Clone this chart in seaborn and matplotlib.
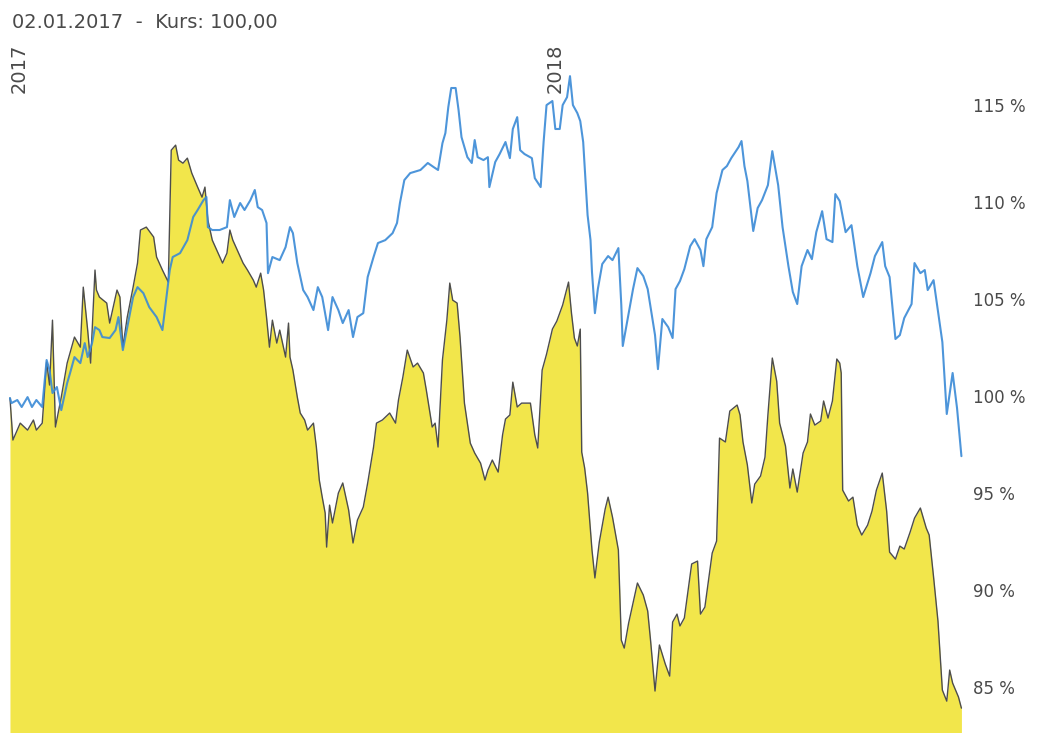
import pandas as pd
import matplotlib.pyplot as plt
import matplotlib.dates as mdates
import matplotlib.transforms as mtransforms
import seaborn as sns

# ------------------------------------------------------------
# Daten: Tage seit 02.01.2017 und Kurs in % (Start = 100)
# ------------------------------------------------------------
START = pd.Timestamp("2017-01-02")

# Aktie (gelbe Fläche, graue Linie)
aktie_tage = [
    0, 2, 7, 12, 16, 18, 22, 25, 27, 29, 31, 35, 39, 44, 48, 50, 53, 55, 58, 59,
    61, 66, 68, 73, 75, 77, 80, 84, 87, 89, 93, 98, 100, 104, 108, 110, 113, 115, 118, 121,
    124, 128, 131, 133, 135, 138, 142, 145, 148, 150, 152, 156, 159, 162, 166, 168, 171, 173, 175, 177,
    179, 182, 184, 188, 190, 191, 193, 196, 198, 201, 203, 207, 209, 211, 213, 215, 216, 218, 220, 224,
    227, 231, 234, 237, 241, 244, 248, 250, 254, 259, 263, 265, 268, 271, 275, 278, 282, 284, 288, 290,
    292, 295, 298, 300, 302, 305, 307, 310, 314, 317, 321, 324, 326, 329, 333, 336, 338, 341, 343, 346,
    349, 355, 358, 360, 363, 366, 370, 373, 377, 381, 383, 385, 387, 389, 390, 392, 394, 397, 399, 402,
    406, 408, 411, 415, 417, 419, 422, 425, 428, 432, 435, 437, 440, 443, 447, 450, 452, 455, 457, 460,
    465, 469, 471, 474, 479, 482, 484, 488, 491, 496, 498, 500, 503, 506, 508, 512, 515, 517, 520, 523,
    525, 529, 532, 534, 537, 541, 544, 546, 549, 553, 555, 558, 561, 564, 566, 567, 568, 572, 575, 578,
    581, 585, 588, 591, 595, 598, 600, 604, 607, 610, 614, 617, 621, 625, 627, 630, 633, 636, 639, 641,
    643, 647, 649,
]
aktie_kurs = [
    100.00, 97.84, 98.71, 98.35, 98.87, 98.35, 98.71, 101.85, 100.67, 104.01,
    98.51, 100.05, 101.80, 103.14, 102.62, 105.71, 103.50, 101.80, 106.59, 105.56,
    105.20, 104.89, 103.86, 105.56, 105.20, 102.62, 104.17, 105.71, 106.95, 108.65,
    108.80, 108.29, 107.26, 106.59, 105.97, 112.76, 113.02, 112.25, 112.09, 112.35,
    111.58, 110.86, 110.34, 110.86, 109.16, 108.13, 107.46, 106.95, 107.46, 108.65,
    108.13, 107.46, 106.95, 106.59, 106.07, 105.71, 106.43, 105.56, 104.17, 102.62,
    104.01, 102.83, 103.50, 102.11, 103.86, 102.11, 101.44, 100.05, 99.23, 98.87,
    98.35, 98.71, 97.48, 95.78, 94.90, 94.08, 92.33, 94.49, 93.57, 95.11,
    95.63, 94.24, 92.54, 93.72, 94.39, 95.63, 97.48, 98.71, 98.87, 99.23,
    98.71, 99.90, 101.08, 102.47, 101.60, 101.80, 101.29, 100.41, 98.51, 98.71,
    97.48, 101.96, 104.01, 105.92, 105.04, 104.89, 103.14, 99.74, 97.68, 97.17,
    96.65, 95.78, 96.29, 96.81, 96.19, 98.10, 98.92, 99.13, 100.82, 99.54,
    99.74, 99.74, 98.10, 97.43, 101.44, 102.26, 103.55, 103.96, 104.79, 105.97,
    104.38, 103.09, 102.68, 103.55, 97.22, 96.40, 95.11, 92.18, 90.74, 92.59,
    94.29, 94.90, 93.87, 92.18, 87.54, 87.13, 88.42, 89.45, 90.48, 89.86,
    89.04, 87.49, 84.92, 87.29, 86.31, 85.69, 88.47, 88.88, 88.27, 88.68,
    91.46, 91.61, 88.88, 89.24, 92.02, 92.64, 97.94, 97.74, 99.33, 99.64,
    99.13, 97.74, 96.55, 94.60, 95.57, 95.99, 96.96, 99.13, 102.06, 100.87,
    98.71, 97.53, 95.37, 96.35, 95.16, 97.17, 97.74, 99.18, 98.61, 98.82,
    99.85, 98.97, 99.85, 102.01, 101.80, 101.29, 95.26, 94.70, 94.90, 93.46,
    92.95, 93.46, 94.18, 95.26, 96.14, 94.18, 92.07, 91.71, 92.38, 92.23,
    93.10, 93.82, 94.34, 93.31, 92.95, 90.79, 88.52, 84.97, 84.40, 86.00,
    85.33, 84.61, 84.04,
]

# Vergleichsindex (blaue Linie)
index_tage = [
    0, 1, 5, 8, 12, 15, 18, 22, 25, 27, 29, 32, 35, 39, 41, 44, 48, 51, 53, 56,
    58, 61, 63, 68, 72, 74, 77, 80, 84, 87, 91, 95, 100, 104, 109, 111, 116, 121, 125, 128,
    132, 134, 135, 138, 143, 148, 150, 153, 157, 160, 164, 167, 169, 172, 175, 176, 179, 184, 188, 191,
    193, 196, 200, 203, 207, 210, 213, 217, 220, 224, 227, 231, 234, 237, 241, 244, 248, 251, 256, 261,
    264, 266, 269, 273, 280, 285, 289, 292, 295, 297, 299, 301, 304, 306, 308, 312, 315, 317, 319, 323,
    326, 327, 331, 334, 338, 341, 343, 346, 348, 351, 356, 358, 362, 364, 366, 370, 372, 375, 377, 380,
    382, 384, 387, 389, 391, 394, 396, 397, 399, 401, 404, 408, 411, 415, 417, 418, 422, 425, 428, 432,
    435, 440, 442, 445, 449, 452, 454, 457, 460, 464, 467, 471, 473, 475, 479, 482, 486, 489, 492, 497,
    499, 501, 503, 507, 510, 513, 517, 520, 524, 527, 531, 534, 537, 540, 544, 547, 550, 554, 557, 561,
    563, 566, 570, 574, 578, 582, 587, 590, 595, 597, 600, 604, 607, 610, 615, 617, 621, 624, 626, 630,
    633, 636, 639, 643, 646, 649,
]
index_kurs = [
    100.00, 99.74, 99.90, 99.54, 100.05, 99.54, 99.90, 99.54, 101.96, 101.44,
    100.26, 100.57, 99.38, 100.77, 101.29, 102.11, 101.80, 102.83, 102.11, 102.83,
    103.65, 103.50, 103.14, 103.09, 103.50, 104.17, 102.47, 103.65, 105.20, 105.71,
    105.40, 104.68, 104.17, 103.50, 106.59, 107.26, 107.46, 108.13, 109.32, 109.68,
    110.19, 110.35, 108.80, 108.65, 108.65, 108.80, 110.19, 109.32, 110.04, 109.68,
    110.19, 110.71, 109.83, 109.68, 109.01, 106.43, 107.26, 107.10, 107.77, 108.80,
    108.49, 106.95, 105.56, 105.20, 104.53, 105.71, 105.20, 103.50, 105.20, 104.53,
    103.86, 104.53, 103.14, 104.17, 104.37, 106.23, 107.26, 107.98, 108.13, 108.49,
    109.01, 110.04, 111.22, 111.58, 111.74, 112.10, 111.89, 111.74, 113.12, 113.64,
    114.98, 115.96, 115.96, 114.82, 113.43, 112.40, 112.10, 113.28, 112.40, 112.25,
    112.40, 110.86, 112.15, 112.56, 113.18, 112.35, 113.85, 114.46, 112.76, 112.56,
    112.35, 111.32, 110.86, 113.18, 115.08, 115.29, 113.85, 113.85, 115.08, 115.49,
    116.57, 115.08, 114.67, 114.26, 113.18, 109.42, 108.13, 106.49, 104.37, 105.61,
    106.90, 107.31, 107.10, 107.72, 104.79, 102.68, 104.37, 105.61, 106.69, 106.28,
    105.61, 103.24, 101.49, 104.07, 103.65, 103.09, 105.61, 106.02, 106.64, 107.82,
    108.18, 107.62, 106.79, 108.18, 108.80, 110.55, 111.74, 111.94, 112.35, 112.92,
    113.23, 111.94, 111.17, 108.60, 109.78, 110.19, 110.96, 112.71, 110.96, 108.80,
    106.79, 105.46, 104.84, 106.79, 107.62, 107.15, 108.54, 109.62, 108.18, 108.03,
    110.50, 110.14, 108.54, 108.90, 106.79, 105.20, 106.43, 107.31, 108.03, 106.79,
    106.23, 103.04, 103.24, 104.12, 104.84, 106.95, 106.43, 106.59, 105.56, 106.07,
    104.48, 102.88, 99.18, 101.29, 99.49, 97.01,
]

prozent_ticks = [115, 110, 105, 100, 95, 90, 85]
jahre = ["2017", "2018"]
titel = "02.01.2017  -  Kurs: 100,00"

# ------------------------------------------------------------
# DataFrames
# ------------------------------------------------------------
df_aktie = pd.DataFrame({
    "datum": START + pd.to_timedelta(aktie_tage, unit="D"),
    "kurs": aktie_kurs,
})
df_index = pd.DataFrame({
    "datum": START + pd.to_timedelta(index_tage, unit="D"),
    "kurs": index_kurs,
})

# ------------------------------------------------------------
# Plot
# ------------------------------------------------------------
sns.set_style("white")
plt.rcParams["font.family"] = ["DejaVu Sans"]
text_farbe = "#4a4a4a"

fig = plt.figure(figsize=(10.4, 7.33), dpi=100)
ax = fig.add_axes([0, 0, 1, 1])

y_unten = 82.76
ax.fill_between(df_aktie["datum"], df_aktie["kurs"], y_unten, color="#f2e64b", lw=0, zorder=1)
sns.lineplot(data=df_aktie, x="datum", y="kurs", color="#4d4d4d", lw=1.0,
             estimator=None, sort=False, ax=ax, zorder=2)
sns.lineplot(data=df_index, x="datum", y="kurs", color="#3a8ad6", lw=1.5, alpha=0.9,
             estimator=None, sort=False, ax=ax, zorder=3)

ax.set_xlim(START - pd.Timedelta(days=6.8), START + pd.Timedelta(days=702.6))
ax.set_ylim(y_unten, 120.49)
ax.axis("off")

# Prozentangaben rechts
trans_y = mtransforms.blended_transform_factory(ax.transAxes, ax.transData)
for p in prozent_ticks:
    ax.text(973 / 1040, p, f"{p} %", transform=trans_y, ha="left", va="center",
            fontsize=12, color=text_farbe)

# Jahresbeschriftungen (senkrecht)
trans_x = mtransforms.blended_transform_factory(ax.transData, ax.transAxes)
for j in jahre:
    x_jahr = mdates.date2num(pd.Timestamp(f"{j}-01-01"))
    ax.annotate(j, xy=(x_jahr, 1 - 44 / 733), xycoords=trans_x,
                xytext=(8, 0), textcoords="offset points", rotation=90,
                ha="center", va="top", fontsize=14, color=text_farbe)

fig.text(12 / 1040, 1 - 22 / 733, titel, ha="left", va="center",
         fontsize=14, color=text_farbe)

fig.savefig("out.png", dpi=100)
